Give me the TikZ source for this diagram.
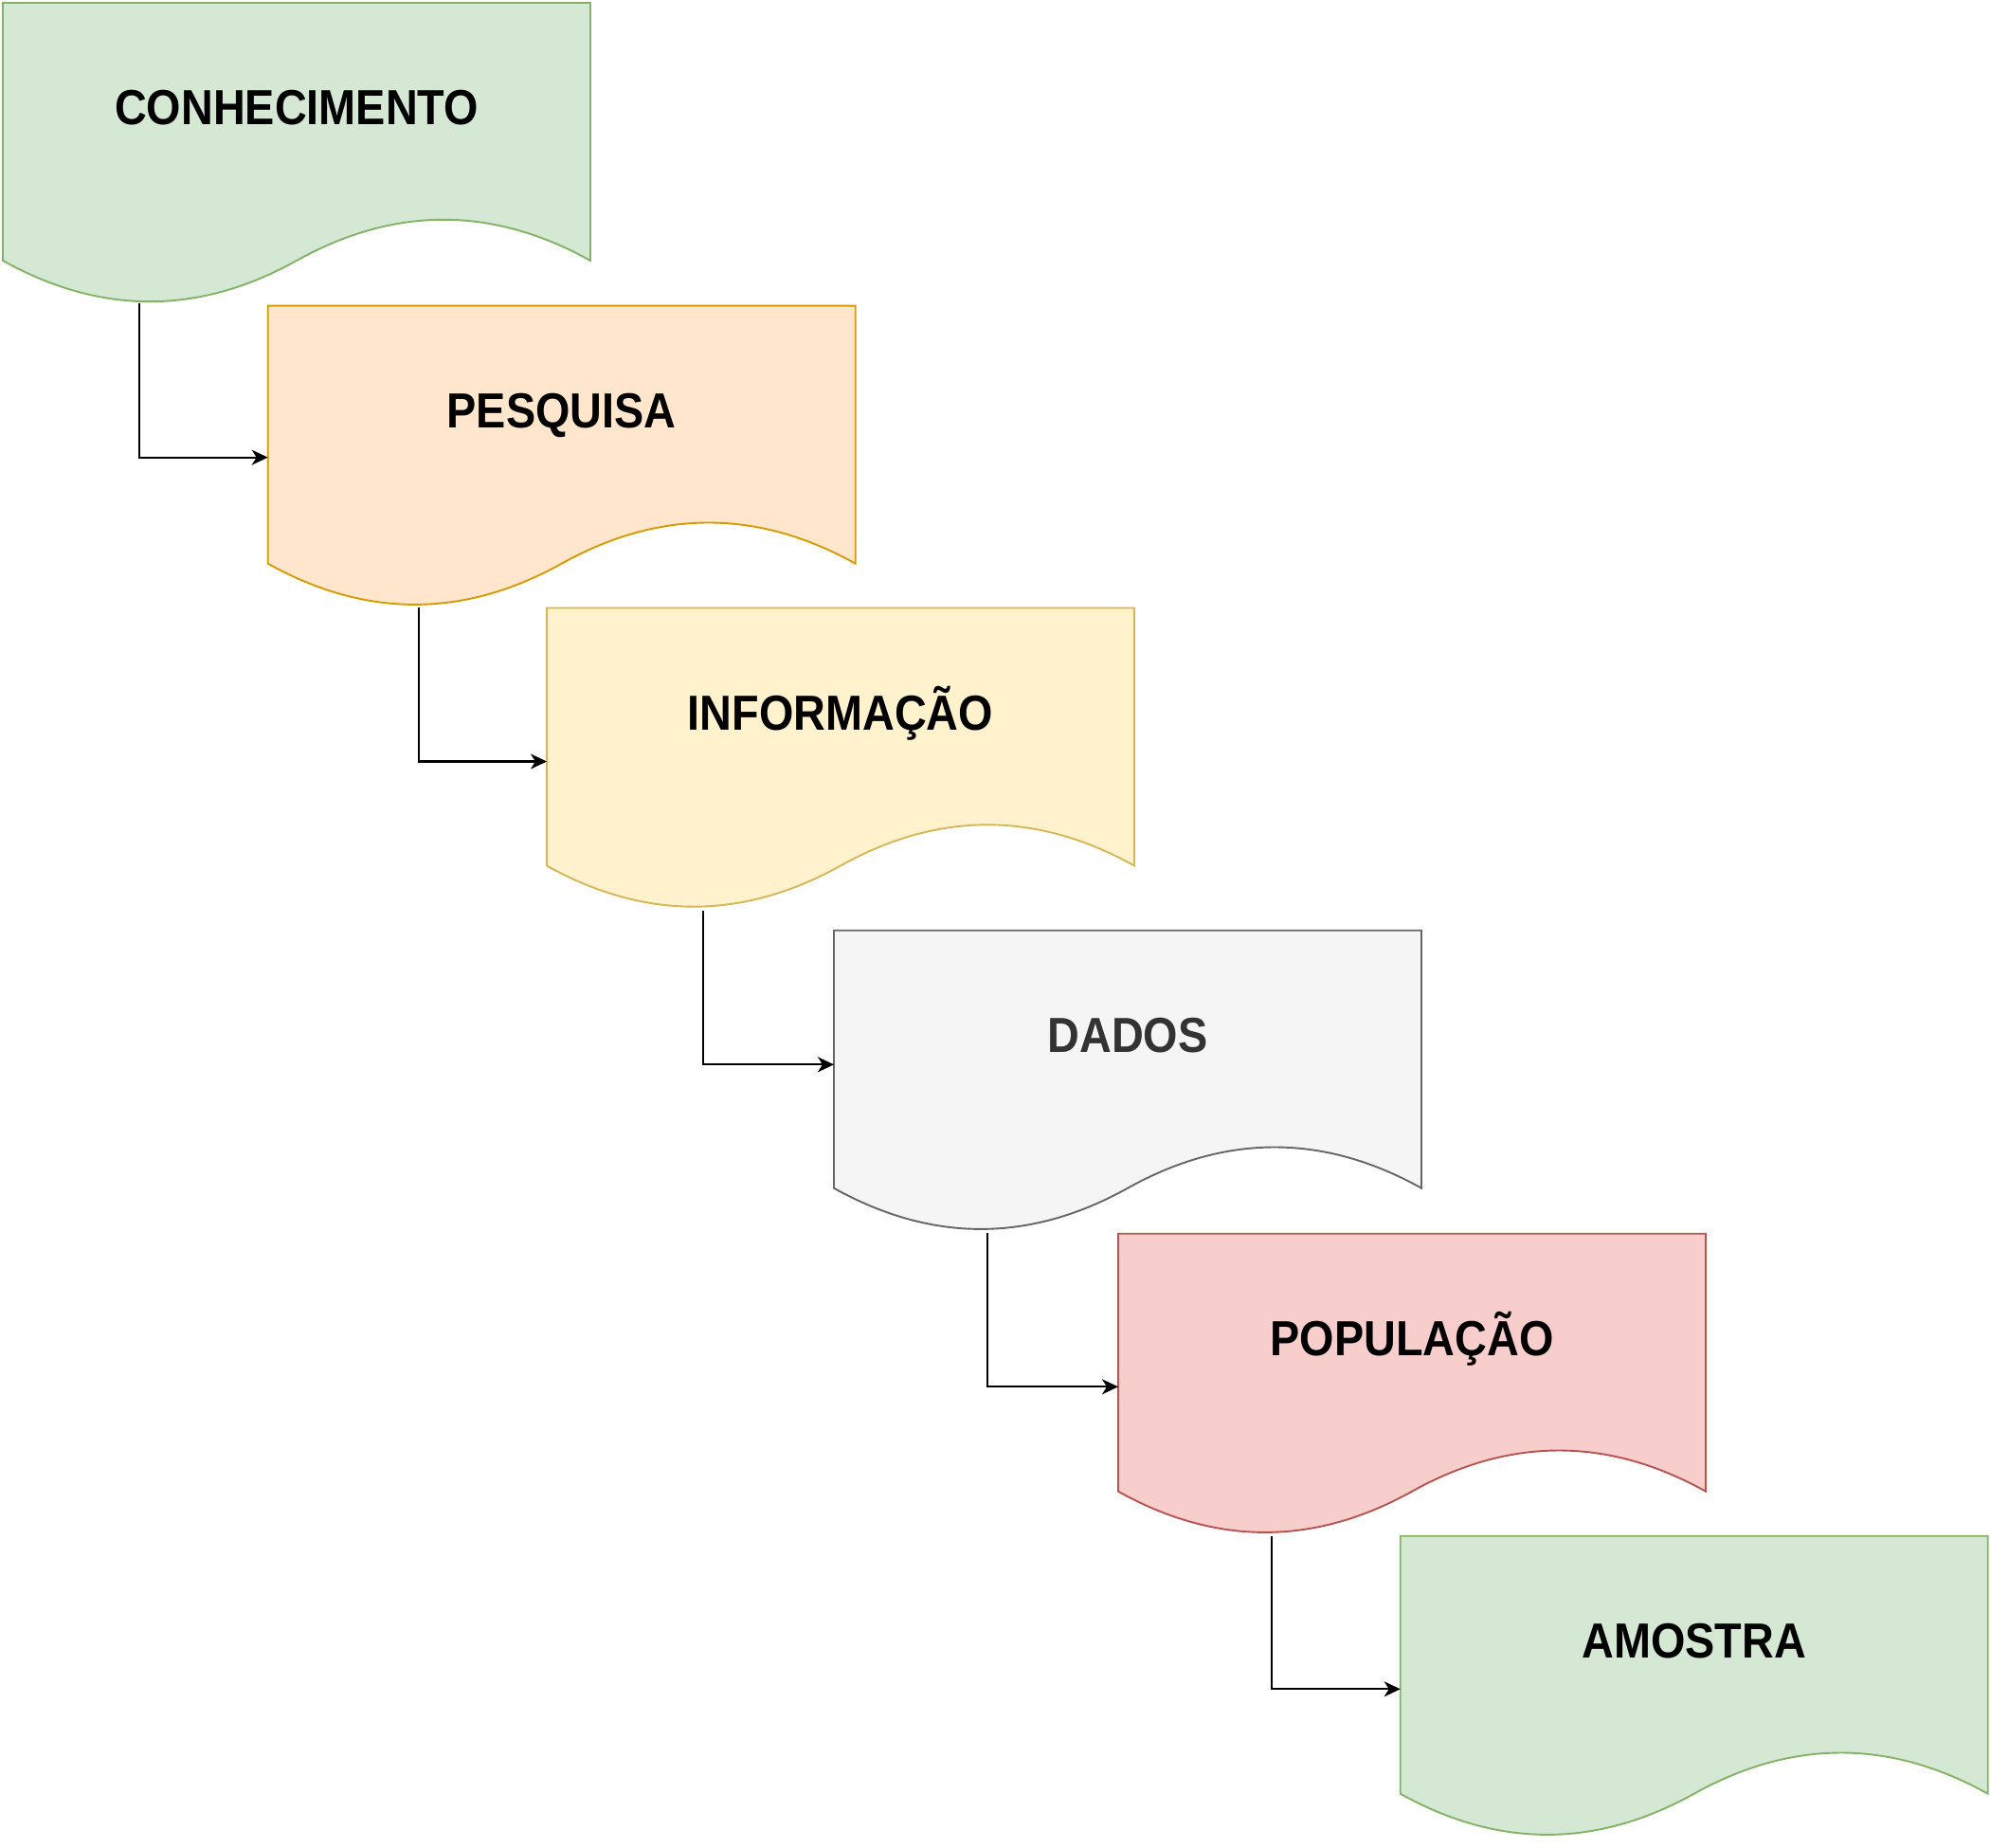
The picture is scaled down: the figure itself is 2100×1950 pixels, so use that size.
\documentclass[tikz,border=0pt]{standalone}
\usepackage{fontspec}
\setmainfont{Liberation Sans}[FakeStretch=0.9]
\usetikzlibrary{arrows.meta}
\definecolor{gfill}{HTML}{D5E8D4}\definecolor{gline}{HTML}{82B366}
\definecolor{ofill}{HTML}{FFE6CC}\definecolor{oline}{HTML}{D79B00}
\definecolor{yfill}{HTML}{FFF2CC}\definecolor{yline}{HTML}{D6B656}
\definecolor{sfill}{HTML}{F5F5F5}\definecolor{sline}{HTML}{666666}
\definecolor{rfill}{HTML}{F8CECC}\definecolor{rline}{HTML}{B85450}
\definecolor{dtext}{HTML}{333333}
\newcommand\mydoc[3]{%
  \path[fill=#2, draw=#3, line width=1.9pt, shift={(#1.north west)}]
    (0,0) -- (620,0) -- (620,272)
    .. controls (516.67,214.4) and (413.33,214.4) .. (310,272)
    .. controls (206.67,329.6) and (103.33,329.6) .. (0,272) -- cycle;}
\tikzset{
  docbox/.style={rectangle, draw=none, fill=none, minimum width=620pt, minimum height=320pt, inner sep=0pt, outer sep=0pt},
  lbl/.style={font=\fontsize{52}{62}\selectfont\bfseries, text height=37.2pt, text depth=0pt, inner sep=0pt},
  conn/.style={draw=black, line width=2.1pt, -{Stealth[length=17pt,width=16pt,inset=5pt]}}
}
\begin{document}
\begin{tikzpicture}[x=1pt,y=-1pt]
\useasboundingbox (0,0) rectangle (2100,1950);
\node[docbox] (b1) at (313,163) {};
\node[docbox] (b2) at (592.7,482.7) {};
\node[docbox] (b3) at (887,801.5) {};
\node[docbox] (b4) at (1190,1141.7) {};
\node[docbox] (b5) at (1490,1461.7) {};
\node[docbox] (b6) at (1787.7,1780.7) {};
\mydoc{b1}{gfill}{gline}
\mydoc{b2}{ofill}{oline}
\mydoc{b3}{yfill}{yline}
\mydoc{b4}{sfill}{sline}
\mydoc{b5}{rfill}{rline}
\mydoc{b6}{gfill}{gline}
\node[lbl] (t1) at ([yshift=-110pt]b1.north) {CONHECIMENTO};
\node[lbl] (t2) at ([yshift=-110pt]b2.north) {PESQUISA};
\node[lbl] (t3) at ([yshift=-110pt]b3.north) {INFORMAÇÃO};
\node[lbl, text=dtext] (t4) at ([yshift=-110pt]b4.north) {DADOS};
\node[lbl] (t5) at ([yshift=-110pt]b5.north) {POPULAÇÃO};
\node[lbl] (t6) at ([yshift=-110pt]b6.north) {AMOSTRA};
\draw[conn] ([xshift=143.7pt,yshift=-317pt]b1.north west) |- (b2.west);
\draw[conn] ([xshift=159.3pt,yshift=-318pt]b2.north west) |- ([yshift=-2pt]b3.west);
\draw[conn] ([xshift=164.7pt,yshift=-319pt]b3.north west) |- ([yshift=18.4pt]b4.west);
\draw[conn] ([xshift=161.8pt,yshift=-319pt]b4.north west) |- ([yshift=-1.6pt]b5.west);
\draw[conn] ([xshift=161.7pt,yshift=-319pt]b5.north west) |- ([yshift=-1.6pt]b6.west);
\end{tikzpicture}
\end{document}
